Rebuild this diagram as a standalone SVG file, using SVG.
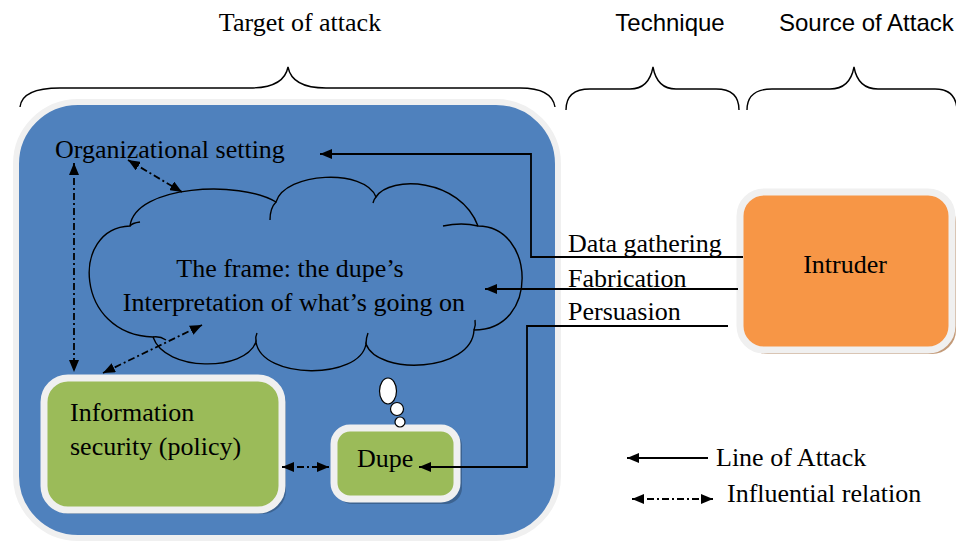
<svg xmlns="http://www.w3.org/2000/svg" width="956" height="542" viewBox="0 0 956 542">
  <style>
    .serif { font-family: "Liberation Serif", "Times New Roman", serif; font-size: 26px; fill: #000; }
    .sans { font-family: "Liberation Sans", Arial, sans-serif; font-size: 24px; fill: #000; }
    .brace { fill: none; stroke: #000; stroke-width: 1.4; }
    .attack { fill: none; stroke: #000; stroke-width: 1.8; }
    .influence { fill: none; stroke: #000; stroke-width: 1.8; stroke-dasharray: 7 3 2 3; }
    .cloud { fill: none; stroke: #000; stroke-width: 1.4; }
  </style>
  <defs>
    <marker id="tip" viewBox="0 0 12 10" refX="12" refY="5" markerWidth="12" markerHeight="10" markerUnits="userSpaceOnUse" orient="auto-start-reverse">
      <path d="M0,0 L12,5 L0,10 Z" fill="#000"/>
    </marker>
  </defs>

  <!-- headings and braces -->
  <g id="headings">
    <text class="serif" x="300" y="31" text-anchor="middle">Target of attack</text>
    <text class="sans" x="670" y="31" text-anchor="middle">Technique</text>
    <text class="sans" x="779" y="31">Source of Attack</text>
    <path class="brace" d="M20,107 Q22,88 60,88 H250 Q284,88 288,67 Q292,88 326,88 H520 Q552,88 555,107"/>
    <path class="brace" d="M566,110 Q566,89 590,89 H630 Q649,89 653,67 Q657,89 676,89 H716 Q739,89 739,110"/>
    <path class="brace" d="M747,110 Q747,89 772,89 H830 Q850,89 854,67 Q858,89 878,89 H935 Q956,89 957,110"/>
  </g>

  <!-- target of attack container -->
  <g id="target">
    <rect x="16" y="102" width="542" height="436" rx="62" fill="#4f81bd" stroke="#f0f0f0" stroke-width="6"/>
    <text class="serif" x="55" y="158">Organizational setting</text>
  </g>

  <!-- the frame (cloud) -->
  <g id="frame">
    <path class="cloud" d="M130,226 C135,185 240,180 276,202 C285,172 365,168 376,197 C390,175 460,178 478,226 C535,226 540,330 474,330 C472,372 378,376 366,344 C360,380 262,380 256,342 C245,372 165,372 153,337 C75,335 70,228 130,226 Z"/>
    <path class="cloud" d="M130,226 Q132,223 140,222"/>
    <path class="cloud" d="M270,220 Q270,208 276,202"/>
    <path class="cloud" d="M373,203 Q374,199 376,197"/>
    <path class="cloud" d="M443,226 Q462,222 478,226"/>
    <path class="cloud" d="M474,330 Q476,325 475,320"/>
    <path class="cloud" d="M366,344 Q366,338 368,333"/>
    <path class="cloud" d="M256,342 Q255,337 257,333"/>
    <path class="cloud" d="M153,337 Q160,336 166,340"/>
    <text class="serif" x="290" y="277" text-anchor="middle">The frame: the dupe’s</text>
    <text class="serif" x="294" y="311" text-anchor="middle">Interpretation of what’s going on</text>
  </g>

  <!-- information security (policy) -->
  <g id="infosec">
    <rect x="46" y="380" width="240" height="134" rx="24" fill="#35577f" opacity="0.7"/>
    <rect x="44" y="378" width="238" height="132" rx="24" fill="#9bbb59" stroke="#f0f0f0" stroke-width="7"/>
    <text class="serif" x="70" y="421">Information</text>
    <text class="serif" x="70" y="455">security (policy)</text>
  </g>

  <!-- dupe -->
  <g id="dupe">
    <rect x="336" y="430" width="126" height="74" rx="16" fill="#35577f" opacity="0.7"/>
    <rect x="334" y="428" width="123" height="71" rx="16" fill="#9bbb59" stroke="#f0f0f0" stroke-width="7"/>
    <text class="serif" x="357" y="467">Dupe</text>
    <ellipse cx="388" cy="391" rx="8.5" ry="13" fill="#fff" stroke="#000" stroke-width="1.2"/>
    <circle cx="397" cy="409" r="6.5" fill="#fff" stroke="#000" stroke-width="1.2"/>
    <circle cx="400" cy="422" r="5" fill="#fff" stroke="#000" stroke-width="1.2"/>
  </g>

  <!-- intruder -->
  <g id="intruder">
    <rect x="744" y="198" width="212" height="156" rx="24" fill="#c39a78"/>
    <rect x="740" y="192" width="212" height="158" rx="24" fill="#f79646" stroke="#f0f0f0" stroke-width="7"/>
    <text class="serif" x="845" y="273" text-anchor="middle">Intruder</text>
  </g>

  <!-- connectors -->
  <g id="connectors">
    <path class="attack" d="M743,257 H531 V154 H320" marker-end="url(#tip)"/>
    <path class="attack" d="M738,289 H485" marker-end="url(#tip)"/>
    <path class="attack" d="M728,326 H527 V467 H419" marker-end="url(#tip)"/>
    <path class="influence" d="M74,163 V372" marker-start="url(#tip)" marker-end="url(#tip)"/>
    <path class="influence" d="M128,160 L182,192" marker-start="url(#tip)" marker-end="url(#tip)"/>
    <path class="influence" d="M202,325 L103,373" marker-start="url(#tip)" marker-end="url(#tip)"/>
    <path class="influence" d="M282,467 H329" marker-start="url(#tip)" marker-end="url(#tip)"/>
  </g>

  <!-- technique labels -->
  <g id="techniques">
    <text class="serif" x="568" y="252">Data gathering</text>
    <text class="serif" x="568" y="287">Fabrication</text>
    <text class="serif" x="568" y="320">Persuasion</text>
  </g>

  <!-- legend -->
  <g id="legend">
    <path class="attack" d="M708,458 H627" marker-end="url(#tip)"/>
    <text class="serif" x="716" y="466">Line of Attack</text>
    <path class="influence" d="M632,499 H713" marker-start="url(#tip)" marker-end="url(#tip)"/>
    <text class="serif" x="727" y="502">Influential relation</text>
  </g>
</svg>
